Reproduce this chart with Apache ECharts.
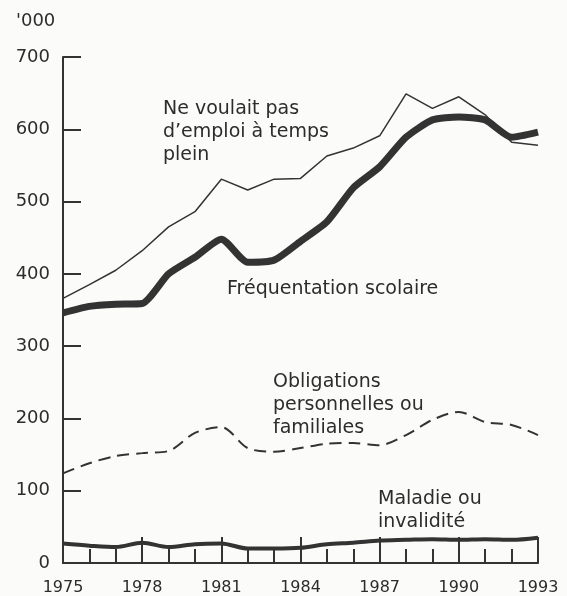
<!DOCTYPE html>
<html>
<head>
    <meta charset="utf-8">
    <title>Raisons de travail à temps partiel</title>
    <script src="https://cdn.jsdelivr.net/npm/echarts@6.0.0/dist/echarts.min.js"></script>
    <style>
        html, body { margin: 0; padding: 0; background: #fbfbfa; }
    </style>
</head>
<body>
    <div id="chart" style="width: 567px; height: 596px;"></div>

    <script>
        // années
        var years = [1975, 1976, 1977, 1978, 1979, 1980, 1981, 1982, 1983, 1984,
                     1985, 1986, 1987, 1988, 1989, 1990, 1991, 1992, 1993];

        // milliers de personnes
        var neVoulaitPas = [366, 385, 405, 432, 465, 486, 531, 516, 531, 532,
                            563, 574, 591, 649, 629, 645, 620, 582, 578];
        var frequentation = [346, 355, 358, 359, 400, 423, 448, 416, 419, 445,
                             472, 519, 548, 589, 613, 617, 613, 589, 596];
        var obligations = [124, 138, 148, 152, 155, 180, 188, 159, 154, 159,
                           165, 166, 163, 177, 198, 209, 195, 191, 177];
        var maladie = [27, 24, 22, 28, 22, 26, 27, 20, 20, 21,
                       26, 28, 31, 32, 33, 32, 33, 32, 35];

        var ink = '#333333';
        var textInk = '#2c2c2c';
        var font = '"DejaVu Sans", Verdana, sans-serif';

        function pairs(values) {
            return years.map(function (y, i) { return [y, values[i]]; });
        }

        var chart = echarts.init(document.getElementById('chart'));

        var labelStyle = { fill: textInk, font: '19px ' + font, lineHeight: 23 };

        chart.setOption({
            animation: false,
            grid: { left: 63, right: 29, top: 57, bottom: 33 },
            xAxis: {
                type: 'value',
                min: 1975,
                max: 1993,
                interval: 3,
                axisLine: { lineStyle: { color: ink, width: 2 } },
                axisTick: { inside: true, length: 26, lineStyle: { color: ink, width: 2 } },
                minorTick: { show: true, splitNumber: 3, length: 14, lineStyle: { color: ink, width: 2 } },
                splitLine: { show: false },
                axisLabel: {
                    color: textInk, fontSize: 16, fontFamily: font, margin: 17,
                    formatter: function (v) { return String(v); }
                }
            },
            yAxis: {
                type: 'value',
                min: 0,
                max: 700,
                interval: 100,
                axisLine: { show: true, lineStyle: { color: ink, width: 2 } },
                axisTick: { inside: true, length: 18, lineStyle: { color: ink, width: 2 } },
                splitLine: { show: false },
                axisLabel: { color: textInk, fontSize: 18, fontFamily: font, margin: 13 }
            },
            graphic: [
                { type: 'text', left: 16, top: 12, style: { text: "'000", fill: textInk, font: '18px ' + font } },
                { type: 'text', left: 163, top: 98, style: Object.assign({ text: "Ne voulait pas\nd’emploi à temps\nplein" }, labelStyle) },
                { type: 'text', left: 227, top: 278, style: Object.assign({ text: "Fréquentation scolaire" }, labelStyle) },
                { type: 'text', left: 273, top: 371, style: Object.assign({ text: "Obligations\npersonnelles ou\nfamiliales" }, labelStyle) },
                { type: 'text', left: 378, top: 488, style: Object.assign({ text: "Maladie ou\ninvalidité" }, labelStyle) }
            ],
            series: [
                {
                    name: 'Ne voulait pas d’emploi à temps plein',
                    type: 'line',
                    data: pairs(neVoulaitPas),
                    symbol: 'none',
                    lineStyle: { color: ink, width: 1.5 }
                },
                {
                    name: 'Fréquentation scolaire',
                    type: 'line',
                    data: pairs(frequentation),
                    symbol: 'none',
                    smooth: 0.2,
                    lineStyle: { color: ink, width: 7 }
                },
                {
                    name: 'Obligations personnelles ou familiales',
                    type: 'line',
                    data: pairs(obligations),
                    symbol: 'none',
                    smooth: 0.3,
                    lineStyle: { color: ink, width: 2, type: [12, 7] }
                },
                {
                    name: 'Maladie ou invalidité',
                    type: 'line',
                    data: pairs(maladie),
                    symbol: 'none',
                    smooth: 0.3,
                    lineStyle: { color: ink, width: 4 }
                }
            ]
        });
    </script>
</body>
</html>
